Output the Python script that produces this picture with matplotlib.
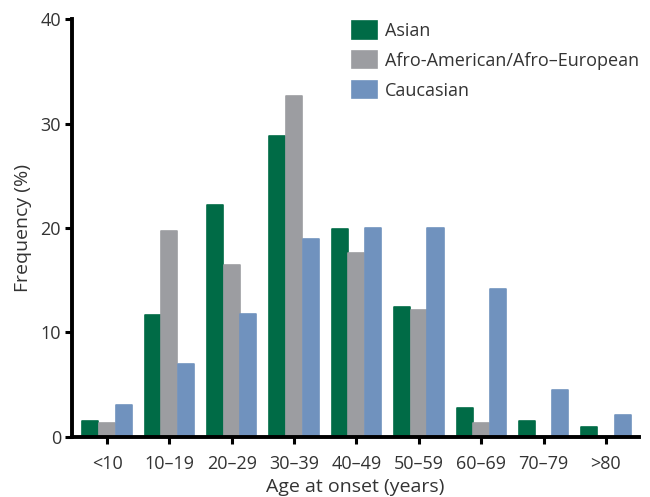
import numpy as np
import matplotlib
matplotlib.use('Agg')
import matplotlib.pyplot as plt

plt.rcParams['font.family'] = ['Open Sans', 'DejaVu Sans']

age_groups = ['<10', '10–19', '20–29', '30–39', '40–49', '50–59', '60–69', '70–79', '>80']
asian = [1.5, 11.7, 22.2, 28.8, 19.9, 12.4, 2.8, 1.5, 0.9]
afro = [1.3, 19.7, 16.5, 32.7, 17.6, 12.2, 1.3, 0, 0]
caucasian = [3.1, 7.0, 11.8, 19.0, 20.0, 20.0, 14.2, 4.5, 2.1]

series_names = ['Asian', 'Afro-American/Afro–European', 'Caucasian']
colors = ['#006b46', '#9c9da1', '#7092be']

fig = plt.figure(figsize=(6.5, 4.97), dpi=100)
ax = fig.add_axes([0.111, 0.121, 0.872, 0.84])

x = np.arange(len(age_groups))
w = 0.267
for k, (vals, name, c) in enumerate(zip([asian, afro, caucasian], series_names, colors)):
    ax.bar(x + (k - 1) * w, vals, width=w - 0.01, color=c, edgecolor=c,
           linewidth=1.2, joinstyle='round', label=name, zorder=2)

ax.set_xlim(-0.56, 8.53)
ax.set_ylim(0, 40)
ax.set_yticks([0, 10, 20, 30, 40])
ax.set_xticks(x)
ax.set_xticklabels(age_groups)

for side in ['top', 'right']:
    ax.spines[side].set_visible(False)
for side in ['left', 'bottom']:
    ax.spines[side].set_linewidth(2.8)
    ax.spines[side].set_zorder(3)
ax.tick_params(axis='both', length=5, width=2.2, labelsize=13, color='black',
               labelcolor='#333333', pad=3)
ax.tick_params(axis='x', pad=8)

ax.set_ylabel('Frequency (%)', fontsize=14, color='#333333', labelpad=6)
ax.set_xlabel('Age at onset (years)', fontsize=14, color='#333333', labelpad=4)

leg = ax.legend(loc='upper left', bbox_to_anchor=(0.494, 0.995), frameon=False,
                fontsize=13, handlelength=1.38, handleheight=1.1,
                labelspacing=0.6, handletextpad=0.45, borderaxespad=0,
                borderpad=0)
for t in leg.get_texts():
    t.set_color('#333333')

fig.savefig('out.png', dpi=100)
